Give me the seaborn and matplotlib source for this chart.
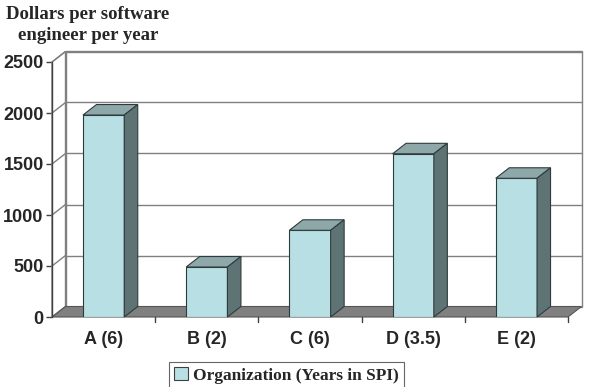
import numpy as np
import pandas as pd
import matplotlib
matplotlib.use("Agg")
import matplotlib.pyplot as plt
from matplotlib.patches import Polygon, Rectangle
import seaborn as sns

# data
orgs = ["A (6)", "B (2)", "C (6)", "D (3.5)", "E (2)"]
cost = [1980, 490, 850, 1600, 1360]
yticks = [0, 500, 1000, 1500, 2000, 2500]
ylabel = "Dollars per software\nengineer per year"
legend_label = "Organization (Years in SPI)"

front_col = "#b8dfe3"
top_col = "#8ea8aa"
side_col = "#5e7474"
floor_col = "#808080"
edge_col = "#2f3b3b"
grid_col = "#808080"

sns.set_style("white")
plt.rcParams["font.family"] = ["Liberation Sans", "DejaVu Sans"]

W, H = 591, 387
fig = plt.figure(figsize=(W / 100, H / 100), dpi=100)
# front plane of the 3d box in pixels
x0px, x1px, y0px, y1px = 52, 568, 317, 62
ax = fig.add_axes([x0px / W, (H - y0px) / H, (x1px - x0px) / W, (y0px - y1px) / H])

df = pd.DataFrame({"org": orgs, "cost": cost})
sns.barplot(data=df, x="org", y="cost", width=0.4, color=front_col,
            saturation=1, edgecolor=edge_col, linewidth=0.8, ax=ax, zorder=5)

ymax = 2500
ax.set_xlim(-0.5, len(orgs) - 0.5)
ax.set_ylim(0, ymax)
# depth offset, in data units
dx = 13.5 / ((x1px - x0px) / len(orgs))
dy = 10.5 / ((y0px - y1px) / ymax)
xl, xr = -0.5, len(orgs) - 0.5

for s in ax.spines.values():
    s.set_visible(False)
ax.set_facecolor("none")

# back wall
ax.add_patch(Rectangle((xl + dx, dy), xr - xl, ymax, facecolor="white",
                       edgecolor=grid_col, lw=1, clip_on=False, zorder=1))
# left wall
ax.add_patch(Polygon([(xl, 0), (xl + dx, dy), (xl + dx, ymax + dy), (xl, ymax)],
                     closed=True, facecolor="white", edgecolor=grid_col, lw=1,
                     clip_on=False, zorder=1))
for v in yticks[1:]:
    ax.plot([xl + dx, xr + dx], [v + dy, v + dy], color=grid_col, lw=1,
            clip_on=False, zorder=2)
    ax.plot([xl, xl + dx], [v, v + dy], color=grid_col, lw=1,
            clip_on=False, zorder=2)

# floor
ax.add_patch(Polygon([(xl, 0), (xr, 0), (xr + dx, dy), (xl + dx, dy)],
                     closed=True, facecolor=floor_col, edgecolor="#555555", lw=0.8,
                     clip_on=False, zorder=3))

# top and side faces of each bar
for p in ax.patches:
    if p.get_facecolor()[:3] != matplotlib.colors.to_rgb(front_col):
        continue
    bx0 = p.get_x()
    bx1 = bx0 + p.get_width()
    h = p.get_height()
    ax.add_patch(Polygon([(bx0, h), (bx1, h), (bx1 + dx, h + dy), (bx0 + dx, h + dy)],
                         closed=True, facecolor=top_col, edgecolor=edge_col, lw=0.8,
                         clip_on=False, zorder=6))
    ax.add_patch(Polygon([(bx1, 0), (bx1 + dx, dy), (bx1 + dx, h + dy), (bx1, h)],
                         closed=True, facecolor=side_col, edgecolor=edge_col, lw=0.8,
                         clip_on=False, zorder=6))

# front y axis line
ax.plot([xl, xl], [0, ymax], color="#404040", lw=1, clip_on=False, zorder=7)
ax.set_yticks(yticks)
ax.set_yticklabels([str(v) for v in yticks], fontsize=13, fontweight="bold")
ax.tick_params(axis="y", length=4, width=1, color="#404040", pad=2, left=True)

# category ticks along front edge of floor
for b in np.arange(xl + 1, xr + 0.01, 1.0):
    ax.plot([b, b], [0, -50], color="#404040", lw=1, clip_on=False, zorder=7)
ax.tick_params(axis="x", length=0, pad=10)
for t in ax.get_xticklabels():
    t.set_fontsize(13)
    t.set_fontweight("bold")
ax.set_xlabel("")
ax.set_ylabel("")

fig.text(88 / W, 1 - 25 / H, ylabel, ha="center", va="center",
         fontsize=13.5, fontweight="bold", family=["Liberation Serif", "DejaVu Serif"],
         linespacing=1.25)

handle = Rectangle((0, 0), 1, 1, facecolor=front_col, edgecolor="#404040", lw=0.8)
leg = fig.legend([handle], [legend_label], loc="upper left",
                 bbox_to_anchor=(169 / W, 1 - 362 / H), frameon=True, fancybox=False,
                 edgecolor="#404040", handlelength=0.8, handleheight=0.8,
                 handletextpad=0.3, borderpad=0.3, borderaxespad=0,
                 prop={"family": "Liberation Serif", "weight": "bold", "size": 12.5})
leg.get_frame().set_linewidth(0.8)

fig.savefig("out.png", dpi=100)
